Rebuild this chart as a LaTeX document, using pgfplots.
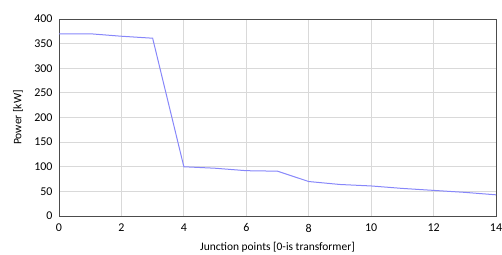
\documentclass[border=0pt]{standalone}
\usepackage{pgfplots}
\pgfplotsset{compat=1.18}
\usepackage{fontspec}
\setmainfont{Carlito}
\definecolor{linec}{RGB}{135,135,250}
\definecolor{gridc}{RGB}{217,217,217}
\begin{document}
\begin{tikzpicture}
\path[use as bounding box] (0,0) rectangle (502bp,255bp);
\begin{axis}[
  at={(59bp,39bp)}, anchor=south west,
  scale only axis, width=437bp, height=197bp,
  xmin=0, xmax=14, ymin=0, ymax=400,
  xtick={0,2,...,14}, ytick={0,50,...,400},
  grid=major,
  major grid style={gridc, line width=1bp},
  axis line style={black!70, line width=0.9bp},
  tick style={draw=none},
  font=\fontsize{12}{14}\selectfont,
  /pgf/number format/assume math mode=true,
  xticklabel style={anchor=center, yshift=-12bp},
  yticklabel style={anchor=east, xshift=-3bp},
  xlabel={Junction points [0-is transformer]},
  ylabel={Power [kW]},
  xlabel style={font=\fontsize{11.5}{13}\selectfont, at={(axis description cs:0.5,0)}, anchor=center, yshift=-31bp},
  ylabel style={font=\fontsize{11.5}{13}\selectfont, at={(axis description cs:0,0.5)}, anchor=center, rotate=0, xshift=0bp, yshift=41bp},
]
\addplot[linec, line width=1bp] coordinates {
(0,370) (1,370) (2,365) (3,361) (4,100) (5,97) (6,92) (7,91) (8,70) (9,64) (10,61) (11,56) (12,52) (13,48) (14,43)
};
\end{axis}
\end{tikzpicture}
\end{document}
